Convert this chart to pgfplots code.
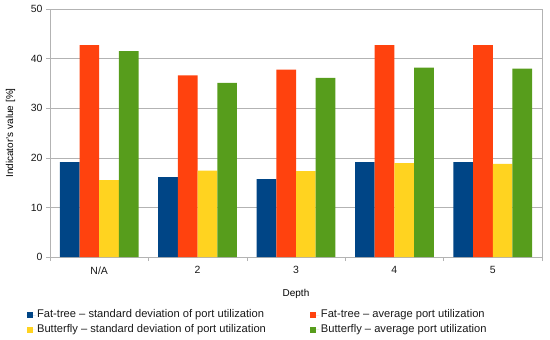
\documentclass[border=0pt]{standalone}
\usepackage{fontspec}
\setmainfont{Liberation Sans}
\usepackage{pgfplots}
\pgfplotsset{compat=1.18}
\definecolor{cA}{HTML}{004586}
\definecolor{cB}{HTML}{FF420E}
\definecolor{cC}{HTML}{FFD320}
\definecolor{cD}{HTML}{579D1C}
\definecolor{gridc}{HTML}{B3B3B3}
\begin{document}
\begin{tikzpicture}
\useasboundingbox (-50bp,-83bp) rectangle (500bp,257bp);
\begin{axis}[
  at={(0,0)}, anchor=south west,
  scale only axis,
  width=492bp, height=248bp,
  ybar=0pt, bar width=0.2,
  xmin=-0.5, xmax=4.5,
  ymin=0, ymax=50,
  ytick={0,10,...,50},
  xtick={0,1,2,3,4},
  xticklabels={N/A,2,3,4,5},
  minor xtick={-0.5,0.5,1.5,2.5,3.5,4.5},
  major x tick style={draw=none},
  minor tick length=4bp,
  major tick length=4bp,
  tick align=outside,
  xtick pos=bottom, ytick pos=left,
  tick style={gridc, line width=0.6pt},
  ymajorgrids,
  grid style={gridc, line width=0.6pt},
  axis line style={gridc, line width=0.6pt},
  tick label style={font=\fontsize{10.5}{12}\selectfont, text=black!90},
  xticklabel style={yshift=-2bp},
  /pgf/number format/assume math mode=true,
  xlabel={Depth},
  ylabel={Indicator's value [\%]},
  label style={font=\fontsize{11.3}{13}\selectfont, text=black!90},
  every axis x label/.style={at={(axis description cs:0.5,-0.149)}, anchor=center},
  every axis y label/.style={at={(axis description cs:-0.0803,0.5)}, rotate=90, anchor=center},
  legend columns=2,
  legend cell align=left,
  legend style={draw=none, fill=none, at={(axis description cs:-0.048,-0.206)}, anchor=north west,
    font=\fontsize{11.2}{13}\selectfont, text=black!90, row sep=1bp, inner sep=0pt,
    nodes={inner sep=1.5bp, text height=8bp, text depth=2.5bp},
    /tikz/every even column/.append style={column sep=43bp}},
  legend image code/.code={\fill[#1] (0bp,-3bp) rectangle (6bp,3bp); \path (0bp,0bp) -- (9bp,0bp);},
]
\addplot[fill=cA, draw=none] coordinates {(0,19.15) (1,16.1) (2,15.7) (3,19.15) (4,19.15)};
\addplot[fill=cB, draw=none] coordinates {(0,42.7) (1,36.6) (2,37.8) (3,42.7) (4,42.7)};
\addplot[fill=cC, draw=none] coordinates {(0,15.5) (1,17.4) (2,17.3) (3,18.95) (4,18.8)};
\addplot[fill=cD, draw=none] coordinates {(0,41.5) (1,35.1) (2,36.1) (3,38.2) (4,38.0)};
\legend{Fat-tree – standard deviation of port utilization, Fat-tree – average port utilization, Butterfly – standard deviation of port utilization, Butterfly – average port utilization}
\end{axis}
\end{tikzpicture}
\end{document}
